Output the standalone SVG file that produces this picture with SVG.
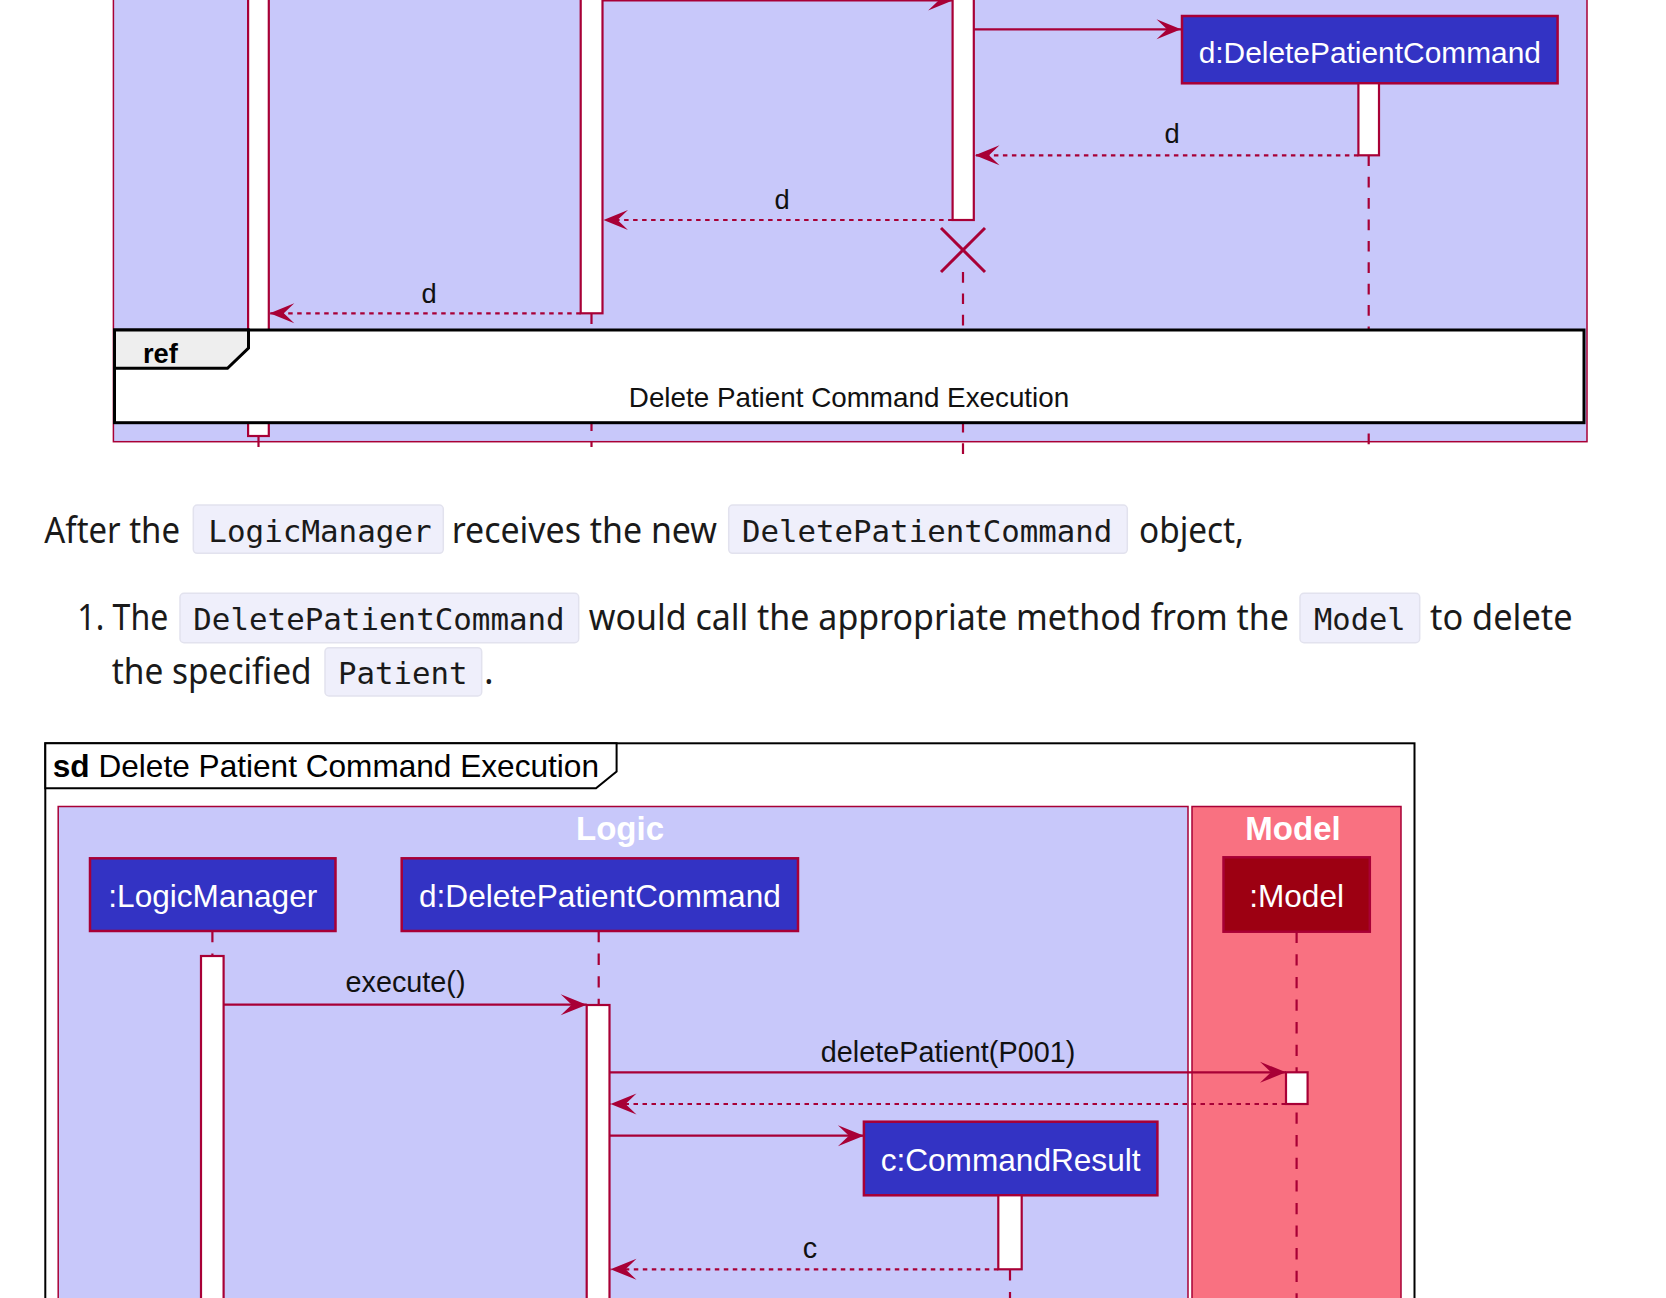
<svg xmlns="http://www.w3.org/2000/svg" width="1666" height="1298" viewBox="0 0 1666 1298">
<style>
.ln{stroke:#A80036;stroke-width:2.2;fill:none}
.ret{stroke:#A80036;stroke-width:2.2;fill:none;stroke-dasharray:4.5 4.5}
.life{stroke:#A80036;stroke-width:2.2;fill:none}
.lt{stroke-dasharray:10.7 10.7}
.lb{stroke-dasharray:11.3 11.3}
.act{fill:#fff;stroke:#A80036;stroke-width:2.2}
.part{fill:#3333C4;stroke:#A80036;stroke-width:2.5}
.mpart{fill:#9D0012;stroke:#A80036;stroke-width:2.5}
.ptxt{font-family:"Liberation Sans",Arial,sans-serif;fill:#fff;text-anchor:middle}
.msg{font-family:"Liberation Sans",Arial,sans-serif;fill:#111;text-anchor:middle}
.body{font-family:"Noto Sans","Open Sans",sans-serif;font-size:36px;fill:#1a1a1a}
.code{font-family:"DejaVu Sans Mono","Liberation Mono",monospace;font-size:31px;fill:#1a1a1a}
.cbox{fill:#EFEFFB;stroke:#E2E2EE;stroke-width:1.5}
.frame{fill:#fff;stroke:#000;stroke-width:2}
</style>
<defs>
<marker id="ah" viewBox="-27 -12 28 24" refX="0" refY="0" markerWidth="28" markerHeight="24" markerUnits="userSpaceOnUse" orient="auto">
<path d="M0,0 L-26,-10.5 L-15,0 L-26,10.5 Z" fill="#A80036"/>
</marker>
<marker id="ahs" viewBox="-27 -12 28 24" refX="0" refY="0" markerWidth="28" markerHeight="24" markerUnits="userSpaceOnUse" orient="auto">
<path d="M0,0 L-24.5,-10 L-14,0 L-24.5,10 Z" fill="#A80036"/>
</marker>
</defs>
<rect width="1666" height="1298" fill="#fff"/>

<!-- ===== Top diagram ===== -->
<g id="top-logic-box">
<rect x="113.4" y="-5" width="1473.6" height="446.7" fill="#C8C8FA" stroke="#A80036" stroke-width="1.5"/>
</g>
<g id="top-lifelines">
<line class="life" x1="258.5" y1="436" x2="258.5" y2="447"/>
<line class="life lt" x1="591.5" y1="313.3" x2="591.5" y2="447"/>
<line class="life lt" x1="963" y1="272" x2="963" y2="455"/>
<line class="life lt" x1="1368.7" y1="155.3" x2="1368.7" y2="455"/>
</g>
<g id="top-act-logicmanager"><rect class="act" x="248.1" y="-5" width="20.7" height="441"/></g>
<g id="top-act-parser"><rect class="act" x="580.7" y="-5" width="21.8" height="318.3"/></g>
<g id="top-act-deleteparser"><rect class="act" x="952.6" y="-5" width="21.2" height="225"/></g>
<g id="top-node-d">
<rect class="part" x="1182" y="16" width="375.6" height="67.3"/>
<text class="ptxt" x="1369.8" y="62.7" font-size="29.9">d:DeletePatientCommand</text>
</g>
<g id="top-act-d"><rect class="act" x="1358.4" y="83.3" width="20.6" height="72"/></g>
<g id="top-destroy">
<line x1="941" y1="228" x2="985" y2="272" stroke="#A80036" stroke-width="3"/>
<line x1="941" y1="272" x2="985" y2="228" stroke="#A80036" stroke-width="3"/>
</g>
<g id="top-connectors">
<line class="ln" x1="602.5" y1="0.5" x2="952.6" y2="0.5" marker-end="url(#ahs)"/>
<line class="ln" x1="973.8" y1="29.3" x2="1181" y2="29.3" marker-end="url(#ahs)"/>
<line class="ret" x1="1358.4" y1="155.3" x2="975" y2="155.3" marker-end="url(#ahs)"/>
<text class="msg" x="1172" y="143.3" font-size="27.3">d</text>
<line class="ret" x1="952.6" y1="220" x2="603.5" y2="220" marker-end="url(#ahs)"/>
<text class="msg" x="782" y="209" font-size="27.3">d</text>
<line class="ret" x1="580.7" y1="313.3" x2="269.8" y2="313.3" marker-end="url(#ahs)"/>
<text class="msg" x="429" y="303" font-size="27.3">d</text>
</g>
<g id="top-ref">
<rect x="114.5" y="330" width="1469.5" height="92.7" fill="#fff" stroke="#000" stroke-width="3"/>
<polygon points="114.5,330 248.5,330 248.5,348 227.5,368.3 114.5,368.3" fill="#EEEEEE" stroke="#000" stroke-width="3"/>
<text x="143" y="362.5" font-family="Liberation Sans,Arial,sans-serif" font-weight="bold" font-size="27.3" fill="#000">ref</text>
<text class="msg" x="849" y="406.7" font-size="27.8" fill="#000">Delete Patient Command Execution</text>
</g>

<!-- ===== Text ===== -->
<g id="text-para">
<text class="body" x="44.3" y="542.5" textLength="135.7" lengthAdjust="spacingAndGlyphs">After the</text>
<rect class="cbox" x="193.3" y="505" width="250" height="48.3" rx="4"/>
<text class="code" x="208.3" y="541.5" textLength="223.4" lengthAdjust="spacingAndGlyphs">LogicManager</text>
<text class="body" x="451.7" y="542.5" textLength="265.3" lengthAdjust="spacingAndGlyphs">receives the new</text>
<rect class="cbox" x="728.7" y="505" width="398.6" height="48.3" rx="4"/>
<text class="code" x="742" y="541.5" textLength="370.3" lengthAdjust="spacingAndGlyphs">DeletePatientCommand</text>
<text class="body" x="1139" y="542.5" textLength="105" lengthAdjust="spacingAndGlyphs">object,</text>
</g>
<g id="text-list">
<text class="body" x="77.3" y="630" textLength="91" lengthAdjust="spacingAndGlyphs">1. The</text>
<rect class="cbox" x="180" y="593.3" width="398.7" height="49.4" rx="4"/>
<text class="code" x="193.3" y="629.5" textLength="371.4" lengthAdjust="spacingAndGlyphs">DeletePatientCommand</text>
<text class="body" x="588.7" y="630" textLength="700.3" lengthAdjust="spacingAndGlyphs">would call the appropriate method from the</text>
<rect class="cbox" x="1300" y="593.3" width="119.7" height="49.4" rx="4"/>
<text class="code" x="1314" y="629.5" textLength="91.7" lengthAdjust="spacingAndGlyphs">Model</text>
<text class="body" x="1430" y="630" textLength="142.5" lengthAdjust="spacingAndGlyphs">to delete</text>
<text class="body" x="111.7" y="684" textLength="200" lengthAdjust="spacingAndGlyphs">the specified</text>
<rect class="cbox" x="325" y="647.7" width="156.7" height="48.3" rx="4"/>
<text class="code" x="338" y="683.5" textLength="129.5" lengthAdjust="spacingAndGlyphs">Patient</text>
<text class="body" x="484" y="684">.</text>
</g>

<!-- ===== Bottom diagram ===== -->
<g id="sd-frame">
<rect class="frame" x="45.3" y="743.3" width="1369.2" height="580"/>
<polygon class="frame" points="45.3,743.3 616.6,743.3 616.6,771.5 596,788.3 45.3,788.3"/>
<text x="52.8" y="776.7" font-family="Liberation Sans,Arial,sans-serif" font-size="31.6" fill="#000"><tspan font-weight="bold">sd</tspan> Delete Patient Command Execution</text>
</g>
<g id="box-logic">
<rect x="58.2" y="806.5" width="1129.8" height="520" fill="#C8C8FA" stroke="#A80036" stroke-width="1.5"/>
<text x="620" y="840" font-family="Liberation Sans,Arial,sans-serif" font-weight="bold" font-size="33" fill="#fff" text-anchor="middle">Logic</text>
</g>
<g id="box-model">
<rect x="1192" y="806.5" width="209" height="520" fill="#F97181" stroke="#A80036" stroke-width="1.5"/>
<text x="1293" y="840" font-family="Liberation Sans,Arial,sans-serif" font-weight="bold" font-size="33" fill="#fff" text-anchor="middle">Model</text>
</g>
<g id="lifelines">
<line class="life lb" x1="212.4" y1="931" x2="212.4" y2="956"/>
<line class="life lb" x1="598.7" y1="931" x2="598.7" y2="1005"/>
<line class="life lb" x1="1296.6" y1="931.7" x2="1296.6" y2="1300"/>
<line class="life lb" x1="1010" y1="1269.3" x2="1010" y2="1300"/>
</g>
<g id="node-logicmanager">
<rect class="part" x="90" y="858.3" width="245.5" height="72.7"/>
<text class="ptxt" x="212.8" y="906.7" font-size="31.6">:LogicManager</text>
</g>
<g id="node-deletepatientcommand">
<rect class="part" x="401.7" y="858.3" width="396.3" height="72.7"/>
<text class="ptxt" x="599.9" y="906.7" font-size="31.6">d:DeletePatientCommand</text>
</g>
<g id="node-model">
<rect class="mpart" x="1223.5" y="857.3" width="146.3" height="74.4"/>
<text class="ptxt" x="1296.6" y="906.7" font-size="31.6">:Model</text>
</g>
<g id="node-commandresult">
<rect class="part" x="863.9" y="1121.7" width="293.5" height="73.6"/>
<text class="ptxt" x="1010.6" y="1170.7" font-size="31.6">c:CommandResult</text>
</g>
<g id="act-logicmanager"><rect class="act" x="201" y="956" width="22.6" height="360"/></g>
<g id="act-deletepatientcommand"><rect class="act" x="586.7" y="1005" width="22.8" height="310"/></g>
<g id="act-model"><rect class="act" x="1286" y="1072.3" width="21.6" height="31.7"/></g>
<g id="act-commandresult"><rect class="act" x="998.3" y="1195.3" width="23.4" height="74"/></g>
<g id="connectors">
<line class="ln" x1="223.6" y1="1004.7" x2="586.7" y2="1004.7" marker-end="url(#ah)"/>
<text class="msg" x="405.5" y="991.7" font-size="28.8">execute()</text>
<line class="ln" x1="609.5" y1="1072.3" x2="1286" y2="1072.3" marker-end="url(#ah)"/>
<text class="msg" x="948" y="1061.7" font-size="28.8">deletePatient(P001)</text>
<line class="ret" x1="1286" y1="1104" x2="610.5" y2="1104" marker-end="url(#ah)"/>
<line class="ln" x1="609.5" y1="1135.7" x2="863.9" y2="1135.7" marker-end="url(#ah)"/>
<line class="ret" x1="998.3" y1="1269.3" x2="610.5" y2="1269.3" marker-end="url(#ah)"/>
<text class="msg" x="810" y="1258" font-size="28.8">c</text>
</g>
</svg>
